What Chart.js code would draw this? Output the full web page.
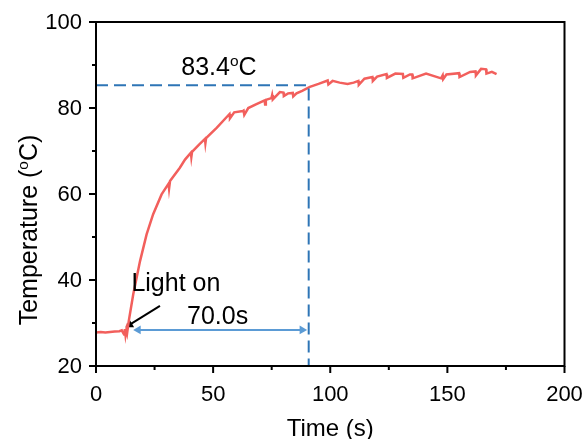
<!DOCTYPE html>
<html>
<head>
<meta charset="utf-8">
<script src="https://cdn.jsdelivr.net/npm/chart.js@4/dist/chart.umd.min.js"></script>
<style>
  html, body { margin: 0; padding: 0; background: #fff; }
  #wrap { width: 588px; height: 439px; }
</style>
</head>
<body>
<div id="wrap"><canvas id="chart" width="588" height="439"></canvas></div>
<script>
// measured curve (time in s, temperature in degC)
const times = [0, 2, 4, 6, 8, 10, 11, 12, 12.3, 12.6, 13, 13.3, 14, 15.9, 18.8, 21.6, 24.4, 28, 31, 31.2, 31.6,
  35.8, 38, 40.5, 40.7, 41, 44, 46.5, 46.7, 47, 51.5, 56.3, 57, 57.2, 59, 62.7, 63, 63.3, 65, 68.5, 72, 72.2, 72.5,
  74.9, 75.2, 75.5, 78.5, 80, 80.2, 82, 84, 84.2, 85.6, 88, 91.3, 95, 98.9, 99.2, 101, 104, 107.4, 110, 112, 112.2,
  114.6, 118, 118.2, 120, 124, 124.2, 127.8, 131, 131.2, 134, 135, 135.2, 140.9, 145, 147.3, 148, 148.2, 149.6,
  155, 155.2, 159.7, 162, 162.2, 164.4, 166.5, 166.7, 169, 171];
const temps = [27.8, 27.9, 27.8, 27.9, 28.0, 28.1, 28.3, 27.3, 28.6, 27.2, 28.5, 27.7, 30.5, 36.7, 44.4, 50.6, 55.3, 59.9, 62.4, 61.3, 63.0,
  66.1, 68.0, 69.6, 68.6, 69.8, 71.5, 72.8, 71.8, 73.0, 75.4, 78.2, 78.6, 77.6, 79.0, 79.3, 79.4, 78.4, 80.0, 80.9, 81.8, 80.8, 81.9,
  82.3, 83.0, 82.0, 83.7, 83.6, 82.8, 83.4, 83.5, 82.7, 83.4, 84.0, 84.9, 85.6, 86.4, 85.5, 86.3, 85.9, 85.6, 85.9, 86.3, 85.4,
  86.8, 87.2, 86.3, 87.3, 87.9, 87.0, 88.0, 87.9, 87.0, 87.8, 87.8, 86.9, 88.0, 87.3, 86.9, 87.6, 86.7, 87.8,
  88.1, 87.2, 88.4, 88.5, 87.6, 89.1, 89.0, 88.0, 88.4, 87.9];

// guide lines and annotations
const guideTimes = [0, 90.8, 90.8];
const guideTemps = [85.3, 85.3, 20];
const spanTimes = [18, 88];
const spanTemps = [28.4, 28.4];
const pointerTimes = [27.3, 14.4];
const pointerTemps = [34.0, 29.6];

const xTicks = [0, 50, 100, 150, 200];
const yTicks = [20, 40, 60, 80, 100];

const pts = (xs, ys) => xs.map((x, i) => ({ x: x, y: ys[i] }));

const FONT = '"Liberation Sans", Arial, sans-serif';

function superText(ctx, parts, x, y, size, align) {
  // parts: [text, isSup]
  let total = 0;
  parts.forEach(p => {
    ctx.font = (p[1] ? size * 0.62 : size) + 'px ' + FONT;
    total += ctx.measureText(p[0]).width;
  });
  let cx = align === 'center' ? x - total / 2 : x;
  ctx.textAlign = 'left';
  ctx.textBaseline = 'alphabetic';
  parts.forEach(p => {
    ctx.font = (p[1] ? size * 0.62 : size) + 'px ' + FONT;
    ctx.fillText(p[0], cx, p[1] ? y - size * 0.38 : y);
    cx += ctx.measureText(p[0]).width;
  });
}

const decor = {
  id: 'decor',
  afterDraw(chart) {
    const ctx = chart.ctx;
    const a = chart.chartArea;
    const xs = chart.scales.x, ys = chart.scales.y;
    ctx.save();
    ctx.strokeStyle = '#000';
    ctx.lineWidth = 2;
    ctx.strokeRect(a.left, a.top, a.right - a.left, a.bottom - a.top);
    xs.ticks.forEach(t => {
      const px = xs.getPixelForValue(t.value);
      const len = xTicks.includes(t.value) ? 7 : 4;
      ctx.beginPath(); ctx.moveTo(px, a.bottom); ctx.lineTo(px, a.bottom + len); ctx.stroke();
    });
    ys.ticks.forEach(t => {
      const py = ys.getPixelForValue(t.value);
      const len = yTicks.includes(t.value) ? 7 : 4;
      ctx.beginPath(); ctx.moveTo(a.left, py); ctx.lineTo(a.left - len, py); ctx.stroke();
    });

    // tick labels
    ctx.fillStyle = '#000';
    ctx.font = '22px ' + FONT;
    ctx.textAlign = 'center';
    ctx.textBaseline = 'middle';
    xTicks.forEach(v => ctx.fillText(String(v), xs.getPixelForValue(v), a.bottom + 29));
    ctx.textAlign = 'right';
    yTicks.forEach(v => ctx.fillText(String(v), a.left - 14, ys.getPixelForValue(v) + 1));

    // axis titles
    ctx.font = '24px ' + FONT;
    ctx.textAlign = 'center';
    ctx.fillText('Time (s)', (a.left + a.right) / 2, 429);
    ctx.save();
    ctx.translate(28, 230);
    ctx.rotate(-Math.PI / 2);
    superText(ctx, [['Temperature (', false], ['o', true], ['C)', false]], 0, 9, 25, 'center');
    ctx.restore();

    // annotations
    superText(ctx, [['83.4', false], ['o', true], ['C', false]],
      xs.getPixelForValue(52.5), ys.getPixelForValue(87.6), 25, 'center');
    superText(ctx, [['Light on', false]], xs.getPixelForValue(34.1), ys.getPixelForValue(37.4), 25, 'center');
    superText(ctx, [['70.0s', false]], xs.getPixelForValue(51.9), ys.getPixelForValue(29.7), 25, 'center');
    ctx.restore();
  }
};

new Chart(document.getElementById('chart'), {
  type: 'scatter',
  data: {
    datasets: [
      {
        data: pts(guideTimes, guideTemps),
        showLine: true,
        borderColor: '#2e75b6',
        borderWidth: 2,
        borderDash: [12, 6],
        pointRadius: 0,
        tension: 0
      },
      {
        data: pts(times, temps),
        showLine: true,
        borderColor: '#f25f5c',
        borderWidth: 2.5,
        pointRadius: 0,
        tension: 0
      },
      {
        data: pts(spanTimes, spanTemps),
        showLine: true,
        borderColor: '#5b9bd5',
        backgroundColor: '#5b9bd5',
        borderWidth: 2,
        pointStyle: 'triangle',
        pointRadius: 5,
        pointBorderWidth: 0,
        pointRotation: [-90, 90]
      },
      {
        data: pts(pointerTimes, pointerTemps),
        showLine: true,
        borderColor: '#000',
        backgroundColor: '#000',
        borderWidth: 2,
        pointStyle: 'triangle',
        pointRadius: [0, 5],
        pointBorderWidth: 0,
        pointRotation: [0, 239]
      }
    ]
  },
  options: {
    responsive: false,
    animation: false,
    layout: { padding: { top: 22, right: 23.5, left: 0, bottom: 0 } },
    plugins: { legend: { display: false }, tooltip: { enabled: false } },
    scales: {
      x: {
        type: 'linear',
        min: 0, max: 200,
        grid: { display: false, drawTicks: false },
        border: { display: false },
        ticks: { stepSize: 25, display: false, autoSkip: false },
        afterFit(s) { s.height = 73; }
      },
      y: {
        type: 'linear',
        min: 20, max: 100,
        grid: { display: false, drawTicks: false },
        border: { display: false },
        ticks: { stepSize: 10, display: false, autoSkip: false },
        afterFit(s) { s.width = 96; }
      }
    }
  },
  plugins: [decor]
});
</script>
</body>
</html>
